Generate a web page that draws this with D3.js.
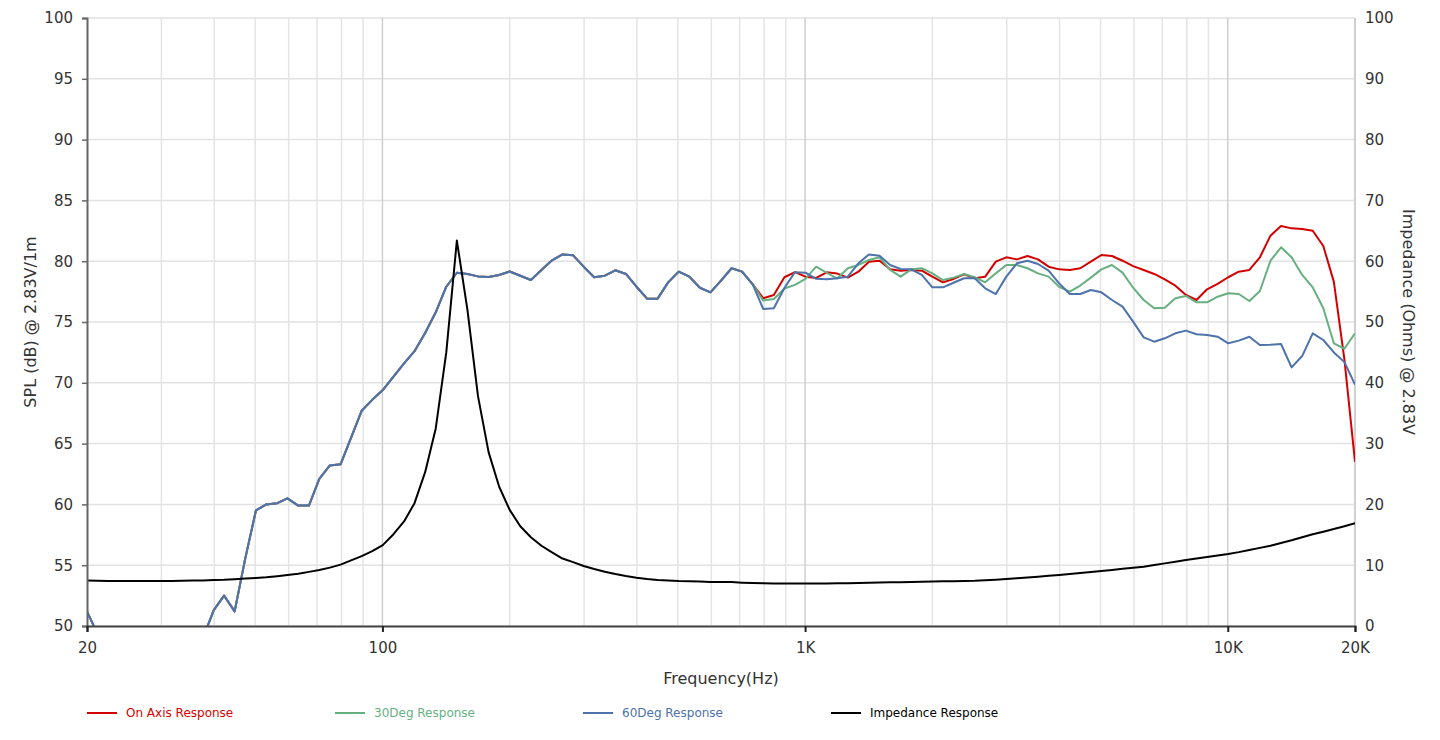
<!DOCTYPE html>
<html>
<head>
<meta charset="utf-8">
<script src="https://cdn.jsdelivr.net/npm/d3@7"></script>
<style>
  body { margin: 0; background: #fff; }
  svg { display: block; font-family: "DejaVu Sans", Verdana, sans-serif; }
</style>
</head>
<body>
<div id="chart"></div>
<script>
// sample frequencies (Hz), 1/40 decade steps
const freqs = [20, 21.2, 22.4, 23.7, 25.2, 26.6, 28.2, 29.9, 31.7, 33.5, 35.6, 37.6, 39.9, 42.2, 44.7, 47.4,
  50.2, 53.1, 56.4, 59.6, 63.2, 67.0, 70.9, 75.1, 79.6, 84.3, 89.3, 94.6, 100.2, 106.2, 112.5, 119.1,
  126.2, 133.7, 141.6, 150, 158.9, 168.3, 178.3, 188.9, 200, 211.9, 224.5, 237.8, 251.9, 266.7, 282.6,
  299.3, 317.0, 335.9, 355.7, 376.8, 399.1, 422.8, 447.8, 474.3, 502.4, 532.2, 563.7, 597.1, 632.5,
  670.0, 709.6, 751.7, 796.2, 843.4, 893.4, 946.3, 1002, 1062, 1125, 1191, 1262, 1337, 1416, 1500,
  1589, 1683, 1783, 1889, 2000, 2119, 2245, 2378, 2519, 2668, 2826, 2993, 3170, 3359, 3557, 3768,
  3991, 4228, 4478, 4743, 5024, 5322, 5637, 5971, 6325, 6700, 7096, 7517, 7962, 8434, 8934, 9463,
  10024, 10618, 11247, 11913, 12619, 13367, 14159, 14998, 15887, 16828, 17825, 18881, 20000];

// below ~750 Hz the three SPL curves sit on top of each other
const splShared = [51.2, 49.3, 47.5, 46.5, 46, 45.8, 45.8, 46, 46.5, 47.2, 48.2, 49.0, 51.3, 52.5, 51.2, 55.6,
  59.5, 60.0, 60.1, 60.5, 59.9, 59.9, 62.1, 63.2, 63.3, 65.5, 67.7, 68.6, 69.4, 70.5, 71.6, 72.6,
  74.1, 75.8, 77.9, 79.05, 78.95, 78.75, 78.7, 78.87, 79.15, 78.8, 78.45, 79.28, 80.07, 80.56, 80.48,
  79.55, 78.68, 78.81, 79.25, 78.95, 77.9, 76.92, 76.92, 78.26, 79.14, 78.73, 77.82, 77.44, 78.4,
  79.42, 79.14, 78.1];

const onAxisHigh = [76.95, 77.22, 78.68, 79.1, 78.73, 78.62, 79.09, 78.98, 78.65, 79.14, 79.96, 80.04,
  79.33, 79.22, 79.28, 79.22, 78.73, 78.26, 78.54, 78.92, 78.6, 78.73, 79.96, 80.32, 80.15, 80.43,
  80.15, 79.55, 79.33, 79.28, 79.42, 79.96, 80.51, 80.43, 80.04, 79.6, 79.28, 78.95, 78.5, 77.99,
  77.22, 76.81, 77.69, 78.13, 78.68, 79.14, 79.28, 80.32, 82.1, 82.9, 82.7, 82.65, 82.5, 81.25,
  78.3, 71.9, 63.5];

const deg30High = [76.76, 76.89, 77.75, 78.05, 78.55, 79.55, 79.05, 78.57, 79.42, 79.69, 80.1, 80.32,
  79.28, 78.73, 79.33, 79.42, 79.0, 78.45, 78.65, 78.95, 78.68, 78.26, 79.0, 79.69, 79.69, 79.42,
  79.0, 78.73, 77.9, 77.5, 78.0, 78.65, 79.33, 79.69, 79.06, 77.82, 76.81, 76.13, 76.18, 76.95,
  77.14, 76.62, 76.62, 77.08, 77.36, 77.3, 76.73, 77.55, 80.04, 81.14, 80.32, 78.87, 77.85, 76.13,
  73.25, 72.8, 74.07];

const deg60High = [76.07, 76.13, 77.8, 79.1, 79.06, 78.55, 78.52, 78.6, 78.73, 79.83, 80.56, 80.45,
  79.69, 79.36, 79.33, 78.87, 77.85, 77.85, 78.23, 78.6, 78.6, 77.77, 77.3, 78.73, 79.83, 80.04,
  79.77, 79.22, 78.18, 77.3, 77.3, 77.63, 77.44, 76.81, 76.26, 75.03, 73.74, 73.38, 73.66, 74.07,
  74.29, 73.99, 73.93, 73.79, 73.25, 73.47, 73.79, 73.11, 73.13, 73.19, 71.27, 72.2, 74.07, 73.52,
  72.5, 71.7, 69.85];

const onAxis = splShared.concat(onAxisHigh);
const deg30 = splShared.concat(deg30High);
const deg60 = splShared.concat(deg60High);

// impedance in ohms
const impedance = [7.5, 7.45, 7.42, 7.4, 7.4, 7.4, 7.4, 7.4, 7.42, 7.44, 7.47, 7.5, 7.55, 7.6, 7.7, 7.8,
  7.9, 8.0, 8.2, 8.4, 8.6, 8.9, 9.2, 9.6, 10.1, 10.8, 11.5, 12.3, 13.3, 15.1, 17.2, 20.2, 25.3, 32.5,
  45.0, 63.4, 52.0, 37.8, 28.6, 22.9, 19.1, 16.4, 14.6, 13.2, 12.1, 11.1, 10.5, 9.87, 9.38, 8.93,
  8.55, 8.22, 7.95, 7.73, 7.57, 7.5, 7.4, 7.35, 7.3, 7.24, 7.24, 7.22, 7.13, 7.07, 7.02, 7.0, 7.0,
  7.0, 7.0, 7.0, 7.0, 7.02, 7.05, 7.08, 7.12, 7.15, 7.18, 7.2, 7.23, 7.27, 7.3, 7.34, 7.38, 7.42,
  7.46, 7.54, 7.62, 7.72, 7.84, 7.97, 8.1, 8.25, 8.39, 8.55, 8.7, 8.88, 9.05, 9.22, 9.4, 9.58, 9.76,
  10.03, 10.3, 10.58, 10.86, 11.1, 11.35, 11.6, 11.84, 12.15, 12.5, 12.85, 13.2, 13.65, 14.1, 14.6,
  15.08, 15.5, 15.95, 16.4, 16.9];

const xTicks = [20, 100, 1000, 10000, 20000];
const xTickLabels = ["20", "100", "1K", "10K", "20K"];
const minorGrid = [30, 40, 50, 60, 70, 80, 90, 200, 300, 400, 500, 600, 700, 800, 900,
  2000, 3000, 4000, 5000, 6000, 7000, 8000, 9000];
const majorGrid = [100, 1000, 10000];
const splTicks = [50, 55, 60, 65, 70, 75, 80, 85, 90, 95, 100];
const ohmTicks = [0, 10, 20, 30, 40, 50, 60, 70, 80, 90, 100];

const series = [
  {name: "On Axis Response", values: onAxis, color: "#d40000", axis: "spl"},
  {name: "30Deg Response", values: deg30, color: "#66b07f", axis: "spl"},
  {name: "60Deg Response", values: deg60, color: "#4d72ac", axis: "spl"},
  {name: "Impedance Response", values: impedance, color: "#000000", axis: "ohm"}
];

const W = 1440, H = 740;
const margin = {top: 18, right: 85, bottom: 114, left: 87};

const svg = d3.select("#chart").append("svg")
    .attr("width", W)
    .attr("height", H);

const x = d3.scaleLog().domain([20, 20000]).range([margin.left, W - margin.right]);
const ySpl = d3.scaleLinear().domain([50, 100]).range([H - margin.bottom, margin.top]);
const yOhm = d3.scaleLinear().domain([0, 100]).range([H - margin.bottom, margin.top]);

// grid
let grid = svg.append("g").attr("class", "grid");
grid.selectAll(".hgrid").data(splTicks).enter().append("line")
    .attr("x1", margin.left).attr("x2", W - margin.right)
    .attr("y1", d => ySpl(d)).attr("y2", d => ySpl(d))
    .attr("stroke", "#e2e2e2").attr("stroke-width", 1.5);
grid.selectAll(".vminor").data(minorGrid).enter().append("line")
    .attr("x1", d => x(d)).attr("x2", d => x(d))
    .attr("y1", margin.top).attr("y2", H - margin.bottom)
    .attr("stroke", "#e4e4e4").attr("stroke-width", 1.5);
grid.selectAll(".vmajor").data(majorGrid).enter().append("line")
    .attr("x1", d => x(d)).attr("x2", d => x(d))
    .attr("y1", margin.top).attr("y2", H - margin.bottom)
    .attr("stroke", "#cfcfcf").attr("stroke-width", 1.5);

// right axis line (light)
svg.append("line")
    .attr("x1", W - margin.right).attr("x2", W - margin.right)
    .attr("y1", margin.top).attr("y2", H - margin.bottom)
    .attr("stroke", "#d0d0d0").attr("stroke-width", 2);

// lines
svg.append("clipPath").attr("id", "plotClip")
  .append("rect")
    .attr("x", margin.left).attr("y", margin.top)
    .attr("width", W - margin.left - margin.right)
    .attr("height", H - margin.top - margin.bottom);

let plot = svg.append("g").attr("clip-path", "url(#plotClip)");
for (let s of series) {
    let yScale = s.axis === "spl" ? ySpl : yOhm;
    let line = d3.line()
        .x((d, i) => x(freqs[i]))
        .y(d => yScale(d));
    plot.append("path")
        .datum(s.values)
        .attr("d", line)
        .attr("fill", "none")
        .attr("stroke", s.color)
        .attr("stroke-width", 2)
        .attr("stroke-linejoin", "round");
}

// axes
let leftAxis = svg.append("g")
    .attr("transform", "translate(" + margin.left + ",0)")
    .call(d3.axisLeft(ySpl).tickValues(splTicks).tickSize(5).tickPadding(9));
leftAxis.select(".domain").attr("stroke", "#666").attr("stroke-width", 2);
leftAxis.selectAll(".tick line").attr("stroke", "#666").attr("stroke-width", 1.5);

let rightAxis = svg.append("g")
    .attr("transform", "translate(" + (W - margin.right) + ",0)")
    .call(d3.axisRight(yOhm).tickValues(ohmTicks).tickSize(0).tickPadding(10));
rightAxis.select(".domain").remove();

let bottomAxis = svg.append("g")
    .attr("transform", "translate(0," + (H - margin.bottom) + ")")
    .call(d3.axisBottom(x).tickValues(xTicks).tickSize(6).tickPadding(10)
        .tickFormat((d, i) => xTickLabels[i]));
bottomAxis.select(".domain").attr("stroke", "#444").attr("stroke-width", 2);
bottomAxis.selectAll(".tick line").attr("stroke", "#222").attr("stroke-width", 2);

svg.selectAll(".tick text")
    .attr("font-family", "'DejaVu Sans', Verdana, sans-serif")
    .attr("font-size", 15)
    .attr("fill", "#333");

// titles
svg.append("text")
    .attr("x", (margin.left + W - margin.right) / 2)
    .attr("y", 684)
    .attr("text-anchor", "middle")
    .attr("font-size", 16).attr("fill", "#333")
    .text("Frequency(Hz)");

svg.append("text")
    .attr("transform", "translate(36," + ((margin.top + H - margin.bottom) / 2) + ") rotate(-90)")
    .attr("text-anchor", "middle")
    .attr("font-size", 16).attr("fill", "#333")
    .text("SPL (dB) @ 2.83V/1m");

svg.append("text")
    .attr("transform", "translate(1403," + ((margin.top + H - margin.bottom) / 2) + ") rotate(90)")
    .attr("text-anchor", "middle")
    .attr("font-size", 16).attr("fill", "#333")
    .text("Impedance (Ohms) @ 2.83V");

// legend
let legend = svg.append("g").attr("transform", "translate(87,713)");
series.forEach((s, i) => {
    let g = legend.append("g").attr("transform", "translate(" + (i * 248) + ",0)");
    g.append("line").attr("x1", 0).attr("x2", 30).attr("y1", 0).attr("y2", 0)
        .attr("stroke", s.color).attr("stroke-width", 2);
    g.append("text").attr("x", 39).attr("y", 0)
        .attr("dominant-baseline", "middle")
        .attr("font-size", 12).attr("fill", s.color)
        .text(s.name);
});
</script>
</body>
</html>
